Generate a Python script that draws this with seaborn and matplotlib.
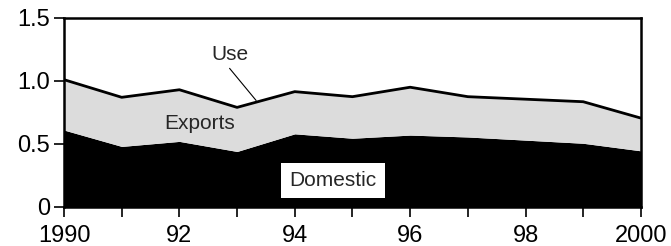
import matplotlib
matplotlib.use("Agg")
import matplotlib.pyplot as plt
import seaborn as sns
import pandas as pd

years = [1990, 1991, 1992, 1993, 1994, 1995, 1996, 1997, 1998, 1999, 2000]
domestic = [0.61, 0.48, 0.52, 0.44, 0.58, 0.545, 0.57, 0.555, 0.53, 0.505, 0.445]
use = [1.01, 0.87, 0.93, 0.79, 0.915, 0.875, 0.95, 0.875, 0.855, 0.835, 0.705]
xtick_labels = ["1990", "", "92", "", "94", "", "96", "", "98", "", "2000"]
yticks = [0, 0.5, 1.0, 1.5]
ytick_labels = ["0", "0.5", "1.0", "1.5"]

df = pd.DataFrame({"year": years, "domestic": domestic, "use": use})

sns.set_style("ticks")
plt.rcParams['font.family'] = ['Liberation Sans', 'DejaVu Sans']

fig = plt.figure(figsize=(6.71, 2.46), dpi=100)
ax = fig.add_axes([0.0954, 0.159, 0.8597, 0.768])

# --- stacked areas ---
ax.fill_between(df["year"], 0, df["domestic"], color="black", lw=0)
ax.fill_between(df["year"], df["domestic"], df["use"], color="#dcdcdc", lw=0)
sns.lineplot(data=df, x="year", y="use", color="black", lw=2, ax=ax)

# --- labels ---
ax.text(1992.87, 1.21, "Use", fontsize=15, ha="center", va="center")
ax.plot([1992.87, 1993.33], [1.1, 0.845], color="black", lw=0.8)
ax.text(1992.35, 0.665, "Exports", fontsize=15, ha="center", va="center")
ax.text(1994.66, 0.21, "Domestic", fontsize=15, ha="center", va="center",
        bbox=dict(facecolor="white", edgecolor="none", pad=6))

ax.set_xlim(1990, 2000)
ax.set_ylim(0, 1.5)
ax.set_xticks(years)
ax.set_xticklabels(xtick_labels, fontsize=17)
ax.set_yticks(yticks)
ax.set_yticklabels(ytick_labels, fontsize=17)
ax.tick_params(axis="both", direction="out", length=7, width=1.2, colors="black", pad=3)
ax.tick_params(axis="x", pad=6)
ax.set_xlabel("")
ax.set_ylabel("")
for s in ax.spines.values():
    s.set_linewidth(1.8)
    s.set_color("black")

fig.savefig("out.png", dpi=100)
